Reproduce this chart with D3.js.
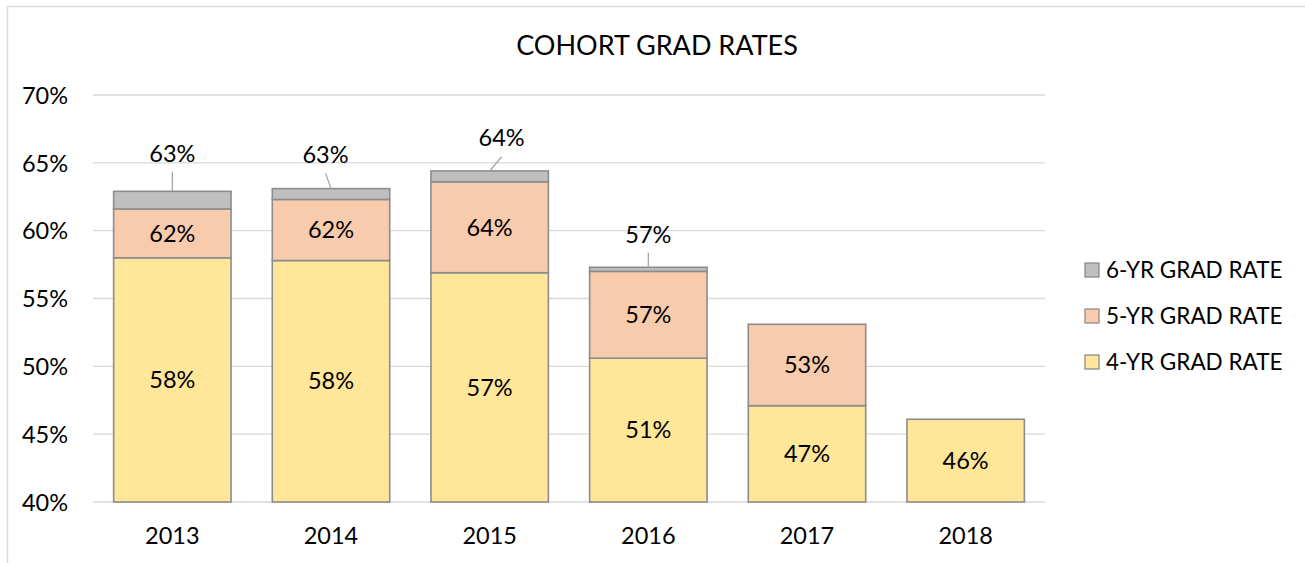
<!DOCTYPE html>
<html>
<head>
<meta charset="utf-8">
<script src="https://cdn.jsdelivr.net/npm/d3@7/dist/d3.min.js"></script>
<style>
  html, body { margin: 0; padding: 0; background: #fff; }
  svg { display: block; }
  text { font-family: Lato, "Open Sans", sans-serif; fill: #000; }
</style>
</head>
<body>
<svg id="chart" width="1305" height="563"></svg>
<script>
// ---- data (cumulative graduation rates, %) ----
const years = ["2013", "2014", "2015", "2016", "2017", "2018"];
const rate4yr = [58.0, 57.8, 56.9, 50.6, 47.1, 46.1];
const rate5yr = [61.6, 62.3, 63.6, 57.0, 53.1, null];
const rate6yr = [62.9, 63.1, 64.4, 57.3, null, null];
const seriesNames = ["6-YR GRAD RATE", "5-YR GRAD RATE", "4-YR GRAD RATE"];
const yTicks = [40, 45, 50, 55, 60, 65, 70];

// ---- styling ----
const colors = { r4: "#FFE699", r5: "#F8CBAD", r6: "#BFBFBF" };
const strokeCol = "#8C8C8C";
const gridCol = "#D9D9D9";
const fs = 23.5;
// position of 6-yr labels relative to the top centre of their bar (px)
const sixLabelOffset = [[0, -38], [-5.5, -34], [12, -32.7], [0, -33]];

const svg = d3.select("#chart");

// chart frame
svg.append("rect")
  .attr("x", 7.5).attr("y", 6.5)
  .attr("width", 1400).attr("height", 700)
  .attr("fill", "none").attr("stroke", gridCol).attr("stroke-width", 1.5);

const x = d3.scaleBand().domain(years).range([93, 1045])
  .paddingInner(0.26).paddingOuter(0.13);
const y = d3.scaleLinear().domain([40, 70]).range([502, 95]);

// gridlines
svg.append("g").selectAll("line").data(yTicks).join("line")
  .attr("x1", 93).attr("x2", 1045)
  .attr("y1", d => y(d)).attr("y2", d => y(d))
  .attr("stroke", gridCol).attr("stroke-width", 1.3);

// y axis labels
const yAxis = d3.axisLeft(y).tickValues(yTicks).tickFormat(d => d + "%").tickSize(0).tickPadding(0);
const gy = svg.append("g").attr("transform", "translate(68,0)").call(yAxis);
gy.select(".domain").remove();
gy.selectAll("text").attr("font-size", fs).attr("font-family", "Lato").attr("fill", "#000")
  .attr("dy", "0.35em");

// x axis labels
const xAxis = d3.axisBottom(x).tickSize(0).tickPadding(0);
const gx = svg.append("g").attr("transform", "translate(0,536)").call(xAxis);
gx.select(".domain").remove();
gx.selectAll("text").attr("font-size", fs).attr("font-family", "Lato").attr("fill", "#000")
  .attr("dy", "0.35em");

// build segments
const segs = [];
years.forEach((yr, i) => {
  segs.push({ yr, i, lo: 40, hi: rate4yr[i], fill: colors.r4, label: rate4yr[i] });
  if (rate5yr[i] != null) segs.push({ yr, i, lo: rate4yr[i], hi: rate5yr[i], fill: colors.r5, label: rate5yr[i] });
  if (rate6yr[i] != null) segs.push({ yr, i, lo: rate5yr[i], hi: rate6yr[i], fill: colors.r6, label: null });
});

svg.append("g").selectAll("rect").data(segs).join("rect")
  .attr("x", d => x(d.yr))
  .attr("width", x.bandwidth())
  .attr("y", d => y(d.hi))
  .attr("height", d => y(d.lo) - y(d.hi))
  .attr("fill", d => d.fill)
  .attr("stroke", strokeCol).attr("stroke-width", 1.6);

// inside labels
svg.append("g").selectAll("text").data(segs.filter(d => d.label != null)).join("text")
  .attr("x", d => x(d.yr) + x.bandwidth() / 2)
  .attr("y", d => (y(d.lo) + y(d.hi)) / 2)
  .attr("dy", "0.35em")
  .attr("text-anchor", "middle")
  .attr("font-size", fs)
  .text(d => Math.round(d.label) + "%");

// 6-yr labels with leader lines
const six = years.map((yr, i) => ({ yr, i, v: rate6yr[i] })).filter(d => d.v != null);
const lg = svg.append("g");
six.forEach(d => {
  const cx = x(d.yr) + x.bandwidth() / 2;
  const top = y(d.v);
  const [dx, dy] = sixLabelOffset[d.i];
  const lx = cx + dx, ly = top + dy;
  lg.append("line")
    .attr("x1", lx).attr("y1", ly + 18.5)
    .attr("x2", cx).attr("y2", top)
    .attr("stroke", "#A6A6A6").attr("stroke-width", 1.3);
  lg.append("text")
    .attr("x", lx).attr("y", ly).attr("dy", "0.35em")
    .attr("text-anchor", "middle").attr("font-size", fs)
    .text(Math.round(d.v) + "%");
});

// title
svg.append("text")
  .attr("x", 657).attr("y", 46).attr("dy", "0.35em")
  .attr("text-anchor", "middle").attr("font-size", 27)
  .text("COHORT GRAD RATES");

// legend
const legColors = [colors.r6, colors.r5, colors.r4];
const leg = svg.append("g").selectAll("g").data(seriesNames).join("g")
  .attr("transform", (d, i) => `translate(1085,${270 + i * 46})`);
leg.append("rect")
  .attr("x", 0).attr("y", -7).attr("width", 14).attr("height", 14)
  .attr("fill", (d, i) => legColors[i]).attr("stroke", strokeCol).attr("stroke-width", 1.3);
leg.append("text")
  .attr("x", 21).attr("y", 0).attr("dy", "0.35em")
  .attr("font-size", 22.5)
  .text(d => d);
</script>
</body>
</html>
